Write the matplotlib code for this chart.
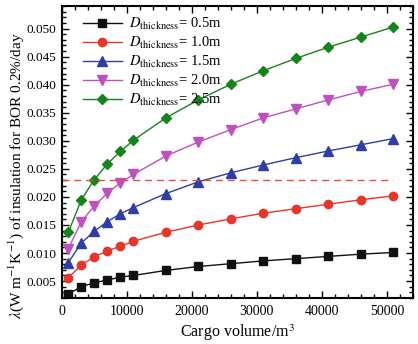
import numpy as np
from matplotlib import pyplot as plt
from matplotlib.ticker import MultipleLocator

plt.rcParams['font.family'] = ['Liberation Serif', 'DejaVu Serif']
plt.rcParams['mathtext.fontset'] = 'stix'

# cargo volume (m^3)
volume = [1000, 3000, 5000, 7000, 9000, 11000, 16000, 21000, 26000,
          31000, 36000, 41000, 46000, 51000]

# thermal conductivity for each insulation thickness
lam_05 = [0.0027, 0.0040, 0.0047, 0.0052, 0.0057, 0.0060, 0.0069, 0.0076,
          0.0081, 0.0086, 0.0090, 0.0094, 0.0098, 0.0101]
lam_10 = [0.0056, 0.0079, 0.0093, 0.0104, 0.0112, 0.0121, 0.0137, 0.0150,
          0.0161, 0.0171, 0.0179, 0.0187, 0.0195, 0.0202]
lam_15 = [0.0083, 0.0118, 0.0139, 0.0156, 0.0170, 0.0181, 0.0206, 0.0227,
          0.0243, 0.0257, 0.0270, 0.0282, 0.0293, 0.0304]
lam_20 = [0.0108, 0.0156, 0.0184, 0.0207, 0.0225, 0.0240, 0.0273, 0.0298,
          0.0320, 0.0341, 0.0357, 0.0373, 0.0388, 0.0401]
lam_25 = [0.0137, 0.0195, 0.0231, 0.0259, 0.0281, 0.0301, 0.0341, 0.0373,
          0.0401, 0.0425, 0.0447, 0.0467, 0.0485, 0.0503]

thickness = ['0.5', '1.0', '1.5', '2.0', '2.5']
limit_value = 0.023
limit_range = [0, 51000]

series = [lam_05, lam_10, lam_15, lam_20, lam_25]
colors = ['#111111', '#E8352B', '#2D3FA5', '#C050C0', '#16841A']
markers = ['s', 'o', '^', 'v', 'D']
sizes = [5.2, 6, 6.5, 6.5, 5.2]

fig, ax = plt.subplots(figsize=(4.18, 3.44), dpi=100)
fig.subplots_adjust(left=0.148, right=0.988, bottom=0.134, top=0.982)

for y, c, m, s, t in zip(series, colors, markers, sizes, thickness):
    ax.plot(volume, y, color=c, marker=m, markersize=s, linewidth=1,
            label=r'$D_{\mathrm{thickness}}$= ' + t + 'm')

ax.plot(limit_range, [limit_value, limit_value], color='#F04A3A',
        linestyle=(0, (5, 3.5)), linewidth=1)

ax.set_xlim(0, 54000)
ax.set_ylim(0.002, 0.054)
ax.xaxis.set_major_locator(MultipleLocator(10000))
ax.xaxis.set_minor_locator(MultipleLocator(2000))
ax.yaxis.set_major_locator(MultipleLocator(0.005))
ax.yaxis.set_minor_locator(MultipleLocator(0.001))
ax.yaxis.set_major_formatter(plt.FormatStrFormatter('%.3f'))

ax.tick_params(which='both', direction='in', top=True, right=True, width=1)
ax.tick_params(axis='x', labelsize=10, pad=5)
ax.tick_params(axis='y', labelsize=9.5, pad=4)
ax.tick_params(which='major', length=5)
ax.tick_params(which='minor', length=3)
for sp in ax.spines.values():
    sp.set_linewidth(1.5)

ax.set_xlabel('Cargo volume/m$^3$', fontsize=11.5, labelpad=3)
ax.set_ylabel(r'$\lambda$(W m$^{-1}$K$^{-1}$) of insulation for BOR 0.2%/day',
              fontsize=11)
ax.yaxis.set_label_coords(-0.103, 0.42)

ax.legend(loc='upper left', bbox_to_anchor=(0.043, 0.986), borderaxespad=0,
          frameon=False, fontsize=10.5, handlelength=2.7,
          labelspacing=0.2, handletextpad=0.5)

fig.savefig('out.png')
